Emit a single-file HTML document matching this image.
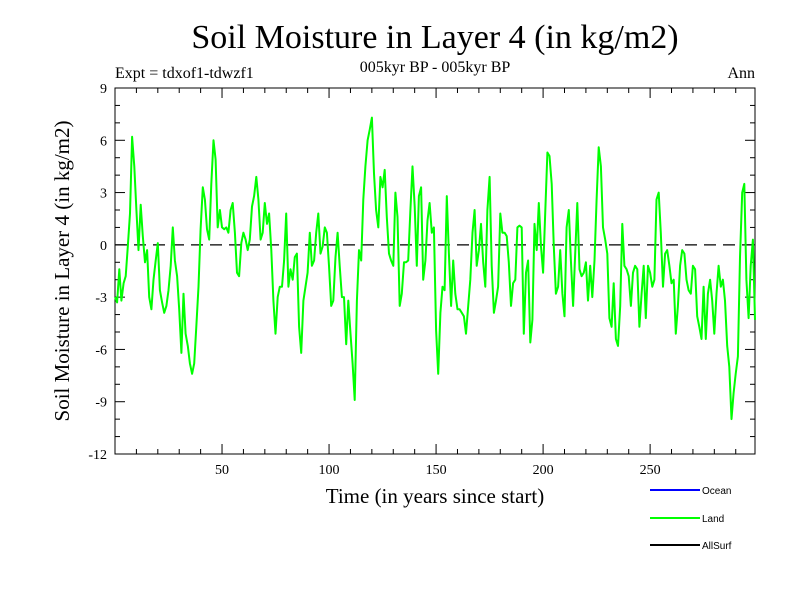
<!DOCTYPE html>
<html><head><meta charset="utf-8"><style>
body{margin:0;background:#fff}
svg{display:block}
text{font-family:"Liberation Serif",serif}
</style></head><body>
<svg id="c" width="800" height="600">
<text x="435" y="48" text-anchor="middle" font-size="34">Soil Moisture in Layer 4 (in kg/m2)</text>
<text x="115" y="78" font-size="16">Expt = tdxof1-tdwzf1</text>
<text x="435" y="72" text-anchor="middle" font-size="16">005kyr BP - 005kyr BP</text>
<text x="755" y="78" text-anchor="end" font-size="16">Ann</text>
<text x="435" y="503" text-anchor="middle" font-size="21">Time (in years since start)</text>
<text transform="translate(69,271) rotate(-90)" text-anchor="middle" font-size="21">Soil Moisture in Layer 4 (in kg/m2)</text>
<g id="legend">
<line x1="650" y1="490" x2="700" y2="490" stroke="#0000ff" stroke-width="2"/>
<text x="702" y="494" font-size="10" style="font-family:'Liberation Sans',sans-serif">Ocean</text>
<line x1="650" y1="518" x2="700" y2="518" stroke="#00ff00" stroke-width="2"/>
<text x="702" y="522" font-size="10" style="font-family:'Liberation Sans',sans-serif">Land</text>
<line x1="650" y1="545" x2="700" y2="545" stroke="#000" stroke-width="2"/>
<text x="702" y="549" font-size="10" style="font-family:'Liberation Sans',sans-serif">AllSurf</text>
</g>
</svg>
<script>
const landValues=[-3.0,-3.3,-1.4,-3.2,-2.2,-1.8,-0.1,1.8,6.2,4.5,2.0,-0.3,2.3,0.5,-1.0,-0.3,-3.0,-3.7,-2.0,-0.9,0.1,-2.6,-3.3,-3.9,-3.5,-2.6,-1.2,1.0,-0.9,-1.8,-3.7,-6.2,-2.8,-5.1,-5.8,-6.8,-7.4,-6.8,-4.7,-2.4,0.9,3.3,2.6,0.9,0.3,3.5,6.0,4.9,1.0,2.0,1.0,0.9,1.0,0.7,2.0,2.4,0.7,-1.6,-1.8,0.1,0.7,0.3,-0.3,0.3,2.2,2.8,3.9,2.6,0.3,0.7,2.4,1.2,1.8,-0.3,-3.2,-5.1,-3.0,-2.4,
-2.4,-0.9,1.8,-2.4,-1.4,-2.0,-0.7,-0.5,-4.7,-6.2,-3.2,-2.4,-1.6,0.7,-1.2,-0.9,0.7,1.8,-0.5,-0.1,1.0,0.7,-1.2,-3.5,-3.2,-0.7,0.7,-1.2,-3.0,-3.0,-5.7,-3.2,-5.1,-6.8,-8.9,-3.2,-0.3,-0.9,2.6,4.5,6.0,6.6,7.3,4.1,2.0,1.0,3.9,3.3,4.3,1.6,-0.5,-0.9,-1.2,3.0,1.6,-3.5,-2.8,-1.0,-1.0,-0.9,2.0,4.5,2.2,-1.2,2.8,3.3,-2.0,-0.9,1.4,2.4,0.7,1.0,-4.9,-7.4,
-3.9,-2.4,-2.6,2.8,-0.5,-3.5,-0.9,-2.8,-3.7,-3.7,-3.9,-4.1,-5.1,-3.5,-2.0,0.7,2.0,-1.2,-0.3,1.2,-1.0,-2.4,2.0,3.9,-1.2,-3.9,-3.2,-2.4,1.8,0.7,0.7,0.5,-1.0,-3.5,-2.2,-2.0,1.0,1.1,1.0,-5.1,-1.6,-0.9,-5.6,-4.3,1.2,-0.3,2.4,-0.1,-1.6,1.8,5.3,5.1,3.5,-0.1,-2.8,-2.4,-0.3,-2.8,-4.1,1.0,2.0,-0.9,-3.5,-0.5,2.4,-1.4,-1.8,-1.6,-1.0,-3.2,-1.2,-3.0,-0.9,2.6,5.6,
4.5,1.0,0.3,-0.5,-4.2,-4.7,-2.2,-5.4,-5.8,-3.5,1.2,-1.2,-1.4,-1.8,-3.5,-1.6,-1.2,-1.4,-4.7,-2.8,-1.2,-4.2,-1.2,-1.6,-2.4,-2.0,2.6,3.0,0.7,-2.4,-0.5,-0.3,-1.2,-2.2,-2.0,-5.1,-3.5,-1.2,-0.3,-0.5,-2.0,-2.6,-2.8,-1.2,-1.4,-4.1,-4.7,-5.4,-2.4,-5.4,-2.8,-2.0,-3.2,-5.1,-2.8,-1.2,-2.4,-2.0,-3.2,-5.8,-7.0,-10.0,-8.5,-7.4,-6.4,-0.7,3.0,3.5,-2.0,-4.2,-1.2,0.3,-4.3];
const yTicks=[-12,-9,-6,-3,0,3,6,9];
const xTicks=[50,100,150,200,250];
const NS='http://www.w3.org/2000/svg';
const L=115,R=755,T=88,B=454,X0=0,X1=299,Y0=-12,Y1=9;
const sx=v=>L+(v-X0)/(X1-X0)*(R-L);
const sy=v=>B-(v-Y0)/(Y1-Y0)*(B-T);
const svg=document.getElementById('c');
function mk(t,a){const e=document.createElementNS(NS,t);for(const k in a)e.setAttribute(k,a[k]);svg.appendChild(e);return e;}
const frame=mk('rect',{x:L,y:T,width:R-L,height:B-T,fill:'none',stroke:'#000','stroke-width':1});


for(let v=Y0;v<=Y1;v++){const maj=v%3===0;const w=maj?10:5;
 mk('line',{x1:L,x2:L+w,y1:sy(v),y2:sy(v),stroke:'#000'});
 mk('line',{x1:R-w,x2:R,y1:sy(v),y2:sy(v),stroke:'#000'});}
yTicks.forEach(v=>{const t=mk('text',{x:L-8,y:sy(v)+5,'text-anchor':'end','font-size':14});t.textContent=v;
 
 });
for(let v=10;v<=X1;v+=10){const maj=v%50===0;const h=maj?10:5;
 mk('line',{x1:sx(v),x2:sx(v),y1:B,y2:B-h,stroke:'#000'});
 mk('line',{x1:sx(v),x2:sx(v),y1:T,y2:T+h,stroke:'#000'});}
xTicks.forEach(v=>{const t=mk('text',{x:sx(v),y:B+20,'text-anchor':'middle','font-size':14});t.textContent=v;
 
 });
const z=mk('line',{x1:L,x2:R,y1:sy(0),y2:sy(0),stroke:'#000','stroke-dasharray':'12,7','stroke-width':1.3});


const pts=landValues.map((v,i)=>sx(i).toFixed(1)+','+sy(v).toFixed(1)).join(' ');
const ln=mk('polyline',{points:pts,fill:'none',stroke:'#00ff00','stroke-width':2,'stroke-linejoin':'round'});


</script>
</body></html>
